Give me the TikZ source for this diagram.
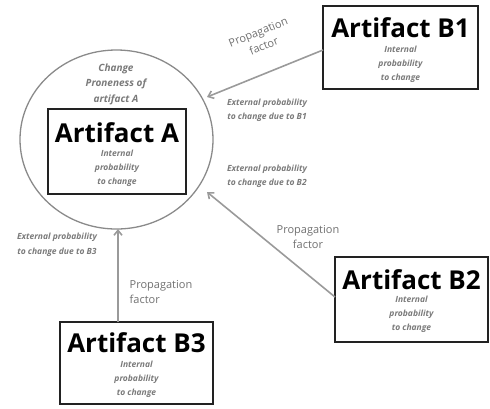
\documentclass[tikz,border=0pt]{standalone}
\usepackage{fontspec}
\setmainfont{Open Sans}
\usetikzlibrary{arrows.meta,shapes.geometric}
\definecolor{boxc}{HTML}{222222}
\definecolor{linec}{HTML}{9A9A9A}
\definecolor{circc}{HTML}{8A8A8A}
\definecolor{smallc}{HTML}{7A7A7A}
\definecolor{propc}{HTML}{707070}
\tikzset{
  artbox/.style={draw=boxc, line width=1.8pt, inner sep=0pt},
  bigt/.style={font=\fontsize{26}{28}\selectfont\bfseries, text=black},
  smallt/.style={font=\fontsize{8.5}{14}\selectfont\itshape\bfseries, text=smallc, align=center},
  extt/.style={font=\fontsize{8.5}{14.5}\selectfont\itshape\bfseries, text=smallc, align=center},
  propt/.style={font=\fontsize{11}{15}\selectfont, text=propc},
  conn/.style={draw=linec, line width=1.6pt, -{Straight Barb[length=5pt,width=8pt]}},
}
\begin{document}
\begin{tikzpicture}[x=1pt,y=-1pt]
\useasboundingbox (0,0) rectangle (490,408);
% Artifact A
\node[draw=circc, line width=1.3pt, ellipse, minimum width=193pt, minimum height=179pt, inner sep=0pt] (circA) at (116.5,139.5) {};
\node[artbox, minimum width=138pt, minimum height=85pt] (boxA) at (117,151.5) {};
\node[bigt] (tA) at (117,133) {Artifact A};
\node[smallt] (iA) at (117,168) {Internal\\probability\\to change};
\node[font=\fontsize{10}{15.5}\selectfont\itshape\bfseries, text=smallc, align=center] (cp) at (116,84) {Change\\Proneness of\\artifact A};
% B1
\node[artbox, minimum width=155pt, minimum height=83pt] (boxB1) at (400.5,47.5) {};
\node[bigt] (tB1) at (400.5,28) {Artifact B1};
\node[smallt] (iB1) at (400.5,64.5) {Internal\\probability\\to change};
% B2
\node[artbox, minimum width=153pt, minimum height=85pt] (boxB2) at (411.5,299.5) {};
\node[bigt] (tB2) at (411.5,280) {Artifact B2};
\node[smallt] (iB2) at (411.5,314) {Internal\\probability\\to change};
% B3
\node[artbox, minimum width=153pt, minimum height=82pt] (boxB3) at (136.5,363) {};
\node[bigt] (tB3) at (136.5,343) {Artifact B3};
\node[smallt] (iB3) at (136.5,379) {Internal\\probability\\to change};
% connectors
\coordinate (eB1) at (207,97);
\coordinate (eB2) at (207,192);
\coordinate (eB3) at (118,229);
\coordinate (sB1) at (323,50);
\coordinate (sB2) at (335,297);
\coordinate (sB3) at (118,322);
\draw[conn] (sB1) -- (eB1);
\draw[conn] (sB2) -- (eB2);
\draw[conn] (sB3) -- (eB3);
% labels
\node[propt, align=center, rotate=22] (pB1) at (261,39) {Propagation\\factor};
\node[propt, align=center] (pB2) at (308,237.5) {Propagation\\factor};
\node[propt, align=left] (pB3) at (161,292.5) {Propagation\\factor};
\node[extt] (xB1) at (267,110.5) {External probability\\to change due to B1};
\node[extt] (xB2) at (267,176.5) {External probability\\to change due to B2};
\node[extt] (xB3) at (57,245) {External probability\\to change due to B3};
\end{tikzpicture}
\end{document}
